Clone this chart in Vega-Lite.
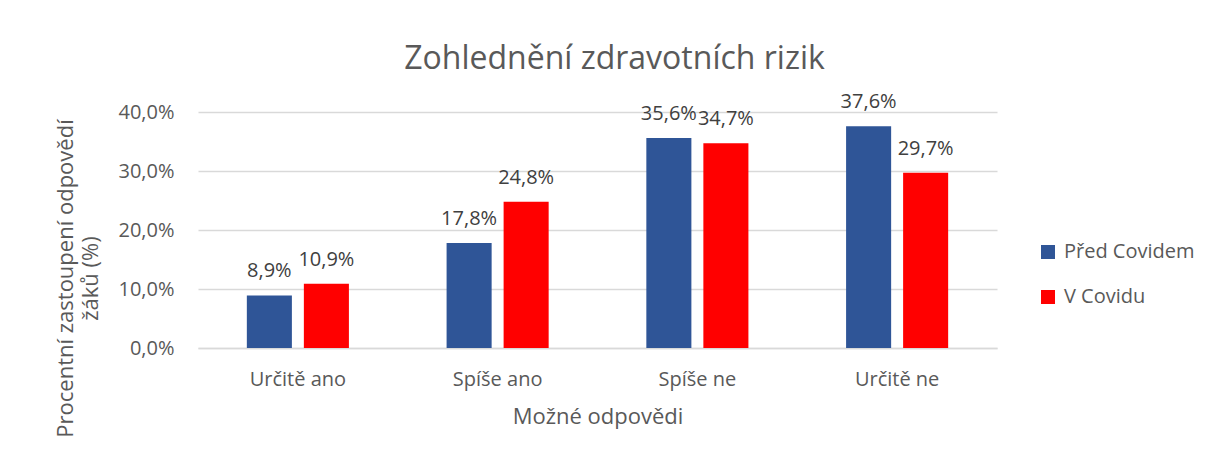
{
  "$schema": "https://vega.github.io/schema/vega-lite/v6.json",
  "autosize": {"type": "none"},
  "width": 799,
  "height": 236,
  "padding": {"left": 198, "top": 112, "right": 213, "bottom": 108},
  "background": "white",
  "title": {
    "text": "Zohlednění zdravotních rizik",
    "font": "Open Sans",
    "fontSize": 32,
    "fontWeight": "normal",
    "color": "#595959",
    "anchor": "middle",
    "dx": 17,
    "dy": 52,
    "baseline": "alphabetic",
    "offset": 43
  },
  "data": {
    "values": [
      {"odpoved": "Určitě ano", "obdobi": "Před Covidem", "hodnota": 0.089},
      {"odpoved": "Určitě ano", "obdobi": "V Covidu", "hodnota": 0.109},
      {"odpoved": "Spíše ano", "obdobi": "Před Covidem", "hodnota": 0.178},
      {"odpoved": "Spíše ano", "obdobi": "V Covidu", "hodnota": 0.248},
      {"odpoved": "Spíše ne", "obdobi": "Před Covidem", "hodnota": 0.356},
      {"odpoved": "Spíše ne", "obdobi": "V Covidu", "hodnota": 0.347},
      {"odpoved": "Určitě ne", "obdobi": "Před Covidem", "hodnota": 0.376},
      {"odpoved": "Určitě ne", "obdobi": "V Covidu", "hodnota": 0.297}
    ]
  },
  "encoding": {
    "x": {
      "field": "odpoved",
      "type": "nominal",
      "sort": ["Určitě ano", "Spíše ano", "Spíše ne", "Určitě ne"],
      "scale": {"paddingInner": 0.489, "paddingOuter": 0.2445},
      "axis": {
        "title": "Možné odpovědi",
        "titleFont": "Open Sans",
        "titleFontSize": 22,
        "titleFontWeight": "normal",
        "titleColor": "#595959",
        "titleBaseline": "alphabetic",
        "titleY": 75,
        "labelFont": "Open Sans",
        "labelFontSize": 20,
        "labelColor": "#595959",
        "labelAngle": 0,
        "labelBaseline": "alphabetic",
        "labelPadding": 37,
        "ticks": false,
        "tickSize": 0,
        "domainColor": "#d9d9d9",
        "domainWidth": 1.5,
        "grid": false
      }
    },
    "xOffset": {
      "field": "obdobi",
      "type": "nominal",
      "sort": ["Před Covidem", "V Covidu"],
      "scale": {"paddingInner": 0.21, "paddingOuter": 0}
    },
    "y": {
      "field": "hodnota",
      "type": "quantitative",
      "scale": {"domain": [0, 0.4], "nice": false},
      "axis": {
        "title": ["Procentní zastoupení odpovědí", "žáků (%)"],
        "titleFont": "Open Sans",
        "titleFontSize": 22,
        "titleFontWeight": "normal",
        "titleColor": "#595959",
        "titleLineHeight": 25,
        "titleAngle": -90,
        "titleAlign": "center",
        "titleBaseline": "middle",
        "titleX": -133,
        "titleY": 166,
        "values": [0, 0.1, 0.2, 0.3, 0.4],
        "format": ".1%",
        "labelFont": "Open Sans",
        "labelFontSize": 20,
        "labelColor": "#595959",
        "labelPadding": 24,
        "ticks": false,
        "tickSize": 0,
        "domain": false,
        "grid": true,
        "gridColor": "#d9d9d9",
        "gridWidth": 1.5
      }
    }
  },
  "layer": [
    {
      "mark": {"type": "bar"},
      "encoding": {
        "color": {
          "field": "obdobi",
          "type": "nominal",
          "sort": ["Před Covidem", "V Covidu"],
          "scale": {"domain": ["Před Covidem", "V Covidu"], "range": ["#2F5597", "#FF0000"]},
          "legend": {
            "title": null,
            "orient": "none",
            "legendX": 840,
            "legendY": 130,
            "padding": 0,
            "symbolType": "square",
            "symbolSize": 196,
            "symbolStrokeWidth": 0,
            "labelFont": "Open Sans",
            "labelFontSize": 20,
            "labelColor": "#595959",
            "labelOffset": 6,
            "rowPadding": 25
          }
        }
      }
    },
    {
      "mark": {
        "type": "text",
        "baseline": "alphabetic",
        "dy": -18,
        "font": "Open Sans",
        "fontSize": 20,
        "color": "#404040"
      },
      "encoding": {
        "text": {"field": "hodnota", "type": "quantitative", "format": ".1%"}
      }
    }
  ],
  "config": {
    "locale": {
      "number": {"decimal": ",", "thousands": " ", "grouping": [3], "currency": ["", " Kč"]}
    },
    "view": {"stroke": null}
  }
}
